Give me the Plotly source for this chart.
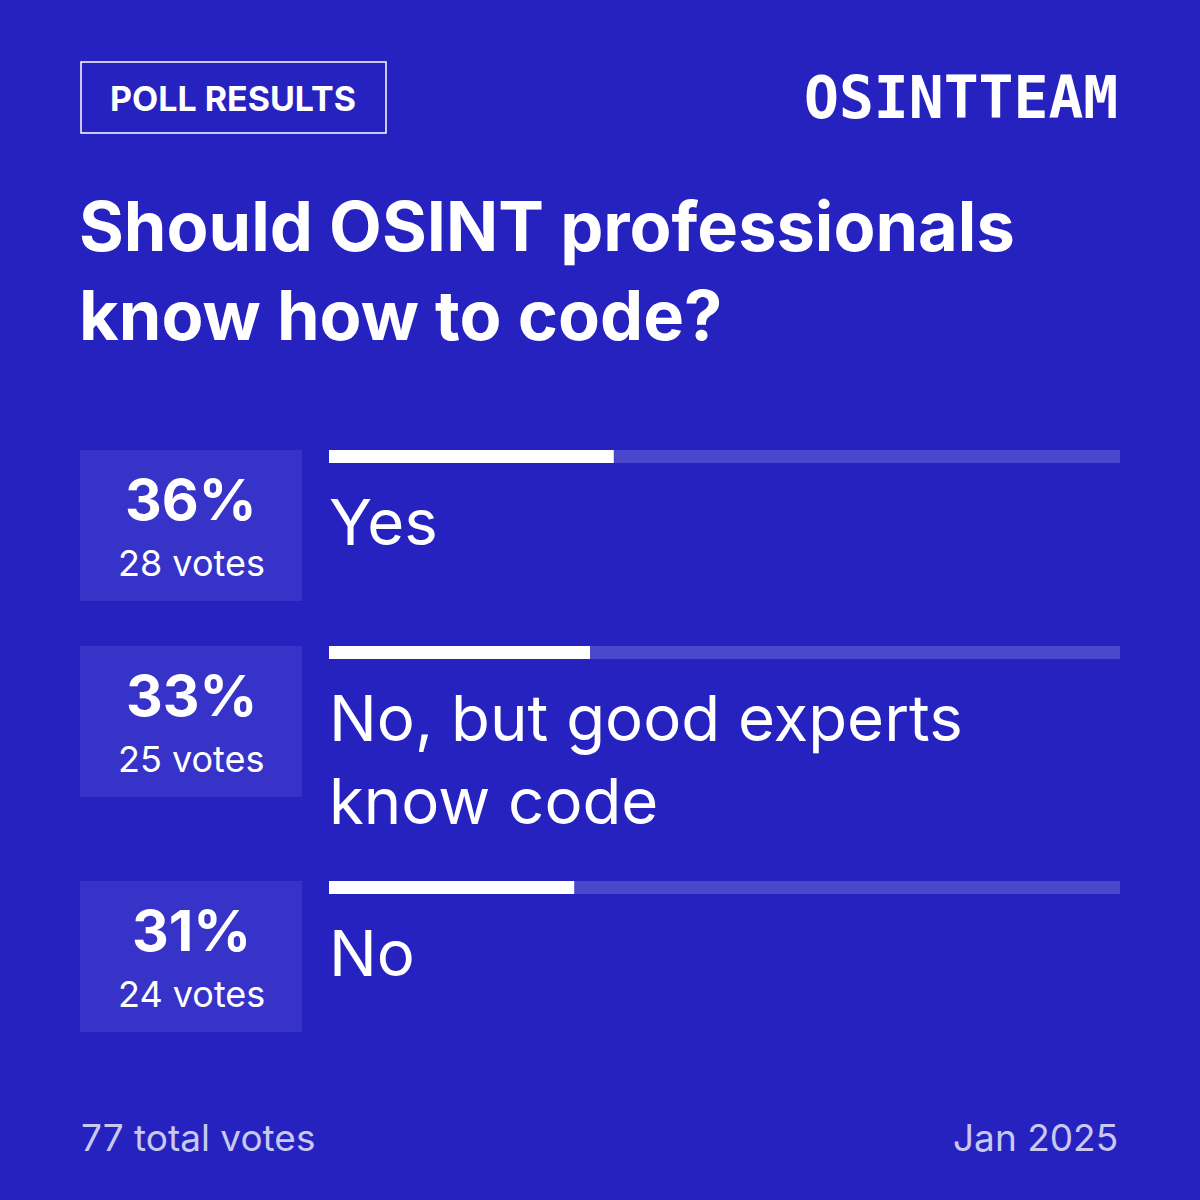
import plotly.graph_objects as go

options = ["Yes", "No, but good experts<br>know code", "No"]
percents = [36, 33, 31]
votes = [28, 25, 24]
total_votes = 77
date_label = "Jan 2025"
title = "Should OSINT professionals<br>know how to code?"

BG = "#2622C0"
BOX = "#3733C9"
TRACK = "#4A47CD"
W = 1200

bar_y = [456.5, 652.5, 887.5]
box_top = [450, 646, 881]
box_h = 151

fig = go.Figure()
fig.add_trace(go.Bar(x=[100]*3, y=bar_y, orientation="h", width=13,
                     marker=dict(color=TRACK, line_width=0), hoverinfo="skip"))
fig.add_trace(go.Bar(x=percents, y=bar_y, orientation="h", width=13,
                     marker=dict(color="white", line_width=0), hoverinfo="skip"))

shapes = [dict(type="rect", xref="paper", yref="y", x0=81/W, x1=386/W, y0=62, y1=133,
               line=dict(color="white", width=1.5), fillcolor="rgba(0,0,0,0)")]
ann = []
def px(x): return x / W
F = "Inter, Noto Sans, sans-serif"
ann.append(dict(x=px(233), y=98, text="<b>POLL RESULTS</b>", font=dict(size=34, color="white", family=F), xanchor="center", yanchor="middle"))
ann.append(dict(x=px(1120), y=98, text="<b>OSINTTEAM</b>", font=dict(size=58, color="white", family="DejaVu Sans Mono, monospace"), xanchor="right", yanchor="middle"))
ann.append(dict(x=px(77), y=271, text="<b>" + title + "</b>", font=dict(size=68.5, color="white", family=F), xanchor="left", yanchor="middle", align="left"))
for i in range(3):
    t = box_top[i]
    shapes.append(dict(type="rect", xref="paper", yref="y", x0=px(80), x1=px(302), y0=t, y1=t + box_h,
                       fillcolor=BOX, line_width=0, layer="below"))
    ann.append(dict(x=px(191), y=t + 49, text="<b>%d%%</b>" % percents[i], font=dict(size=57, color="white", family=F), xanchor="center", yanchor="middle"))
    ann.append(dict(x=px(191), y=t + 113, text="%d votes" % votes[i], font=dict(size=36, color="white", family=F), xanchor="center", yanchor="middle"))
    ann.append(dict(x=px(327), y=t + 31, text=options[i], font=dict(size=63.5, color="white", family=F), xanchor="left", yanchor="top", align="left"))
ann.append(dict(x=px(79), y=1137, text="%d total votes" % total_votes, font=dict(size=37, color="#C9C8F0", family=F), xanchor="left", yanchor="middle"))
ann.append(dict(x=px(1120), y=1137, text=date_label, font=dict(size=37, color="#C9C8F0", family=F), xanchor="right", yanchor="middle"))
for a in ann:
    a.update(xref="paper", yref="y", showarrow=False)

fig.update_layout(width=1200, height=1200, margin=dict(l=0, r=0, t=0, b=0),
                  paper_bgcolor=BG, plot_bgcolor=BG, barmode="overlay", showlegend=False,
                  shapes=shapes, annotations=ann,
                  xaxis=dict(domain=[329/W, 1120/W], range=[0, 100], visible=False, fixedrange=True),
                  yaxis=dict(domain=[0, 1], range=[1200, 0], visible=False, fixedrange=True))
fig.write_html("out.html", config={"displayModeBar": False},
               post_script="document.body.style.margin='0';document.body.style.background='%s';" % BG)
